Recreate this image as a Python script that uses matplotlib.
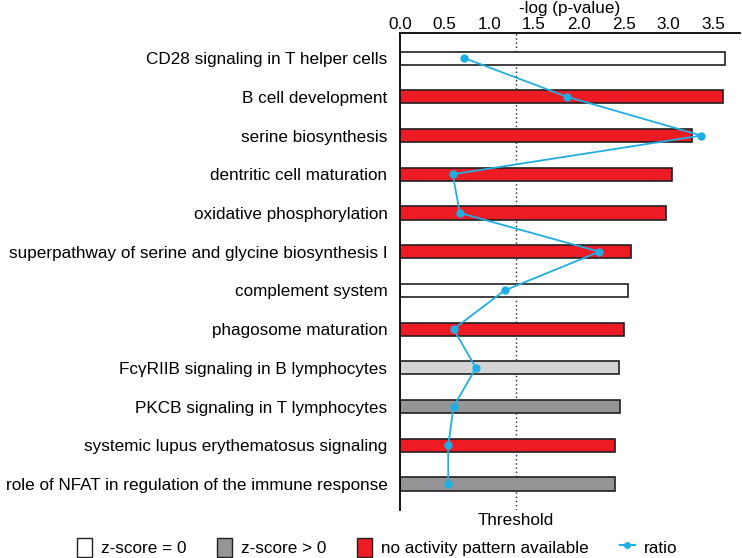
import numpy as np
import matplotlib as mpl
mpl.use('Agg')
from matplotlib import pyplot as plt
from matplotlib.patches import Patch
from matplotlib.lines import Line2D

# pathways, top to bottom
pathways = ['CD28 signaling in T helper cells',
			'B cell development',
			'serine biosynthesis',
			'dentritic cell maturation',
			'oxidative phosphorylation',
			'superpathway of serine and glycine biosynthesis I',
			'complement system',
			'phagosome maturation',
			'Fc\u03b3RIIB signaling in B lymphocytes',
			'PKCB signaling in T lymphocytes',
			'systemic lupus erythematosus signaling',
			'role of NFAT in regulation of the immune response']
logp = [3.64, 3.61, 3.27, 3.04, 2.97, 2.58, 2.55, 2.50, 2.45, 2.46, 2.41, 2.41]
ratio = [0.72, 1.87, 3.37, 0.59, 0.67, 2.23, 1.17, 0.60, 0.85, 0.60, 0.54, 0.54]
status = ['zero', 'none', 'none', 'none', 'none', 'none', 'zero', 'none', 'light', 'pos', 'none', 'pos']
threshold = 1.3

colors = {'zero': 'white', 'pos': '#959597', 'none': '#ED1C24', 'light': '#D4D4D6'}
blue = '#1FAEE3'

mpl.rcParams['font.family'] = ['Liberation Sans', 'DejaVu Sans']

fig = plt.figure(figsize=(7.42, 5.58), dpi=100)
axLeft, axWidth = 0.539, 0.458
ax = fig.add_axes([axLeft, 0.086, axWidth, 0.855])

y = np.arange(len(pathways))
ax.barh(y, logp, height=0.34, color=[colors[s] for s in status], edgecolor='#231F20', linewidth=1.2, zorder=2)
ax.plot(ratio, y, color=blue, marker='o', markersize=5, linewidth=1.3, zorder=4)
ax.axvline(threshold, color='#231F20', linestyle=(0, (1, 2)), linewidth=1, zorder=1)

ax.set_ylim(len(pathways) - 1 + 0.67, -0.65)
ax.set_xlim(0, 3.8)
ax.set_yticks(y)
ax.set_yticklabels(pathways, fontsize=12.3)
ticks = np.arange(0, 3.51, 0.5)
ax.set_xticks(ticks)
ax.set_xticklabels(['{0:.1f}'.format(v) for v in ticks], fontsize=12.3)
ax.xaxis.tick_top()
ax.tick_params(axis='x', length=0, pad=0.5)
ax.tick_params(axis='y', length=0, pad=9)
for s in ['right', 'bottom']:
	ax.spines[s].set_visible(False)
for s in ['left', 'top']:
	ax.spines[s].set_linewidth(1.3)

# axis title sits right on top of the tick labels
fig.text(axLeft + axWidth / 2, 0.999, '-log (p-value)', ha='center', va='top', fontsize=12.3)
ax.text(threshold, len(pathways) - 1 + 0.75, 'Threshold', ha='center', va='top', fontsize=12.3)

handles = [Patch(facecolor='white', edgecolor='#231F20', label='z-score = 0'),
		   Patch(facecolor=colors['pos'], edgecolor='#231F20', label='z-score > 0'),
		   Patch(facecolor=colors['none'], edgecolor='#231F20', label='no activity pattern available'),
		   Line2D([0], [0], color=blue, marker='o', markersize=4, label='ratio')]
fig.legend(handles=handles, loc='lower center', bbox_to_anchor=(0.508, -0.025), ncol=4, frameon=False,
		   fontsize=12.3, handlelength=0.9, handleheight=1.3, columnspacing=1.8, handletextpad=0.5)

fig.savefig('out.png', dpi=100)
